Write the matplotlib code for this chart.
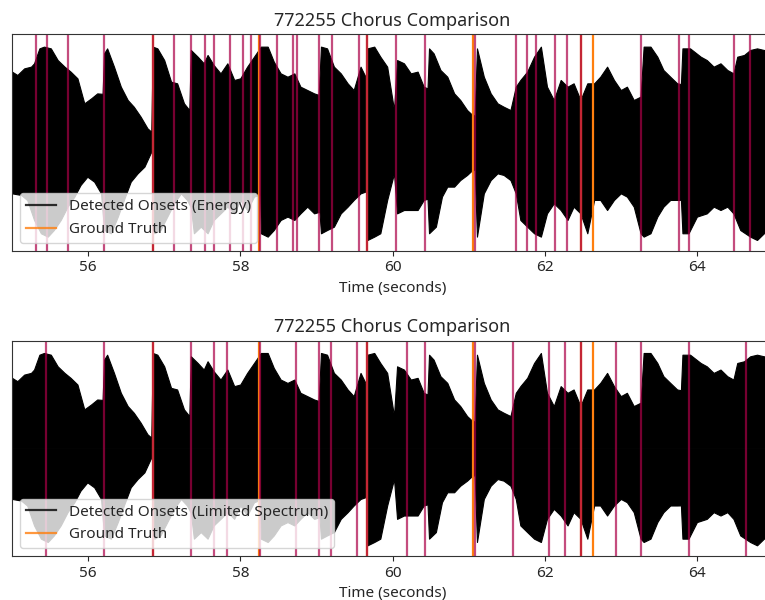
#!/usr/bin/env python

import matplotlib
matplotlib.use('Agg')
import matplotlib.pyplot as plt
from matplotlib.lines import Line2D

plt.rcParams['font.family'] = ['Noto Sans', 'DejaVu Sans']
plt.rcParams['text.color'] = '#262626'
plt.rcParams['axes.labelcolor'] = '#262626'
plt.rcParams['xtick.color'] = '#262626'
plt.rcParams['axes.edgecolor'] = '#333333'

song_id = '772255'

# waveform envelope (seconds, normalised amplitude)
upper_t = [55.0, 55.07, 55.16, 55.25, 55.29, 55.36, 55.42, 55.51, 55.60, 55.69,
           55.77, 55.86, 55.95, 56.04, 56.12, 56.19, 56.21, 56.25, 56.34, 56.43,
           56.52, 56.60, 56.69, 56.78, 56.83, 56.85, 56.91, 57.0, 57.09, 57.17,
           57.26, 57.33, 57.35, 57.44, 57.52, 57.57, 57.65, 57.74, 57.83, 57.92,
           58.0, 58.09, 58.18, 58.27, 58.36, 58.44, 58.53, 58.62, 58.71, 58.79,
           58.88, 58.97, 59.03, 59.06, 59.14, 59.23, 59.32, 59.41, 59.49, 59.58,
           59.65, 59.67, 59.76, 59.84, 59.93, 60.02, 60.06, 60.15, 60.24, 60.33,
           60.41, 60.46, 60.48, 60.54, 60.63, 60.72, 60.81, 60.89, 60.98, 61.05,
           61.08, 61.11, 61.20, 61.29, 61.38, 61.46, 61.55, 61.62, 61.68, 61.77,
           61.86, 61.95, 62.03, 62.12, 62.21, 62.30, 62.38, 62.47, 62.56, 62.65,
           62.73, 62.82, 62.91, 63.0, 63.08, 63.17, 63.26, 63.30, 63.39, 63.48,
           63.56, 63.65, 63.74, 63.79, 63.81, 63.91, 64.05, 64.13, 64.22, 64.31,
           64.40, 64.48, 64.53, 64.62, 64.70, 64.79, 64.88, 65.0]
upper_a = [0.655, 0.624, 0.685, 0.701, 0.732, 0.870, 0.886, 0.870, 0.762, 0.701,
           0.655, 0.593, 0.362, 0.408, 0.454, 0.450, 0.824, 0.870, 0.701, 0.516,
           0.393, 0.331, 0.239, 0.131, 0.100, 0.886, 0.870, 0.762, 0.562, 0.547,
           0.362, 0.300, 0.855, 0.793, 0.732, 0.809, 0.716, 0.639, 0.732, 0.578,
           0.593, 0.701, 0.793, 0.886, 0.886, 0.747, 0.639, 0.608, 0.639, 0.516,
           0.485, 0.454, 0.440, 0.886, 0.870, 0.701, 0.639, 0.547, 0.485, 0.701,
           0.600, 0.870, 0.886, 0.793, 0.701, 0.300, 0.762, 0.732, 0.639, 0.655,
           0.516, 0.500, 0.870, 0.824, 0.670, 0.608, 0.454, 0.393, 0.300, 0.254,
           0.250, 0.870, 0.608, 0.454, 0.362, 0.331, 0.300, 0.516, 0.578, 0.655,
           0.793, 0.886, 0.516, 0.393, 0.578, 0.516, 0.547, 0.393, 0.547, 0.547,
           0.608, 0.701, 0.578, 0.485, 0.516, 0.393, 0.424, 0.886, 0.886, 0.793,
           0.670, 0.608, 0.547, 0.540, 0.870, 0.870, 0.793, 0.762, 0.701, 0.732,
           0.670, 0.639, 0.793, 0.809, 0.855, 0.870, 0.855, 0.850]

lower_t = [55.0, 55.12, 55.20, 55.29, 55.38, 55.47, 55.55, 55.64, 55.73, 55.82,
           55.90, 55.99, 56.08, 56.17, 56.21, 56.30, 56.39, 56.47, 56.56, 56.65,
           56.74, 56.82, 56.85, 56.87, 56.95, 57.04, 57.13, 57.22, 57.30, 57.35,
           57.39, 57.48, 57.57, 57.65, 57.74, 57.83, 57.92, 58.0, 58.09, 58.18,
           58.26, 58.27, 58.36, 58.44, 58.53, 58.62, 58.71, 58.79, 58.88, 58.97,
           59.04, 59.06, 59.14, 59.23, 59.32, 59.41, 59.49, 59.58, 59.66, 59.67,
           59.76, 59.84, 59.93, 60.02, 60.06, 60.15, 60.24, 60.33, 60.41, 60.46,
           60.48, 60.57, 60.65, 60.72, 60.81, 60.89, 60.98, 61.05, 61.08, 61.11,
           61.20, 61.29, 61.38, 61.46, 61.55, 61.62, 61.68, 61.77, 61.86, 61.95,
           62.03, 62.12, 62.21, 62.30, 62.38, 62.47, 62.56, 62.65, 62.73, 62.82,
           62.91, 63.0, 63.08, 63.17, 63.26, 63.30, 63.39, 63.48, 63.56, 63.65,
           63.74, 63.79, 63.81, 63.89, 64.0, 64.13, 64.22, 64.31, 64.40, 64.48,
           64.57, 64.70, 64.79, 64.88, 65.0]
lower_a = [-0.470, -0.485, -0.532, -0.716, -0.839, -0.870, -0.809, -0.716, -0.593, -0.500,
           -0.393, -0.316, -0.362, -0.470, -0.809, -0.839, -0.685, -0.531, -0.362, -0.285,
           -0.223, -0.100, -0.060, -0.839, -0.809, -0.685, -0.562, -0.470, -0.531, -0.600,
           -0.839, -0.778, -0.839, -0.716, -0.655, -0.593, -0.655, -0.531, -0.624, -0.500,
           -0.480, -0.839, -0.870, -0.809, -0.716, -0.685, -0.716, -0.655, -0.593, -0.655,
           -0.640, -0.839, -0.809, -0.778, -0.655, -0.593, -0.531, -0.470, -0.450, -0.901,
           -0.870, -0.839, -0.531, -0.285, -0.655, -0.624, -0.624, -0.624, -0.531, -0.520,
           -0.839, -0.778, -0.500, -0.408, -0.408, -0.347, -0.300, -0.254, -0.250, -0.870,
           -0.470, -0.347, -0.285, -0.300, -0.347, -0.470, -0.716, -0.778, -0.839, -0.870,
           -0.655, -0.562, -0.624, -0.716, -0.593, -0.655, -0.839, -0.531, -0.531, -0.624,
           -0.531, -0.470, -0.500, -0.593, -0.839, -0.870, -0.839, -0.685, -0.593, -0.531,
           -0.531, -0.530, -0.839, -0.839, -0.685, -0.655, -0.593, -0.624, -0.593, -0.655,
           -0.809, -0.870, -0.901, -0.839, -0.800]

ground_truth = [56.85, 58.24, 59.67, 61.06, 62.48, 62.63]

energy_onsets = [55.32, 55.46, 55.73, 56.21, 56.85, 57.13, 57.35, 57.53, 57.66, 57.87,
                 58.04, 58.14, 58.26, 58.48, 58.69, 58.75, 59.04, 59.21, 59.56, 59.67,
                 60.04, 60.43, 61.08, 61.62, 61.77, 61.89, 62.13, 62.29, 62.48, 63.26,
                 63.76, 63.90, 64.49, 64.70]

spectrum_onsets = [55.45, 56.21, 56.85, 57.35, 57.66, 57.83, 58.26, 58.73, 59.04, 59.19,
                   59.54, 59.67, 60.19, 60.43, 61.08, 61.58, 62.06, 62.27, 62.48, 62.94,
                   63.26, 63.90, 64.65]

onset_color = (0.67, 0.0, 0.28)
truth_color = '#ff7f0e'


def draw_panel(ax, onsets, method):
    ax.fill_between(upper_t, 0, upper_a, color='black', linewidth=0.8, edgecolor='black')
    ax.fill_between(lower_t, lower_a, 0, color='black', linewidth=0.8, edgecolor='black')
    for t in ground_truth:
        ax.axvline(t, color=truth_color, linewidth=1.6)
    for t in onsets:
        ax.axvline(t, color=onset_color, linewidth=1.6, alpha=0.7)
    ax.set_xlim(55, 65)
    ax.set_ylim(-1, 1)
    ax.set_xticks([56, 58, 60, 62, 64])
    ax.tick_params(axis='x', labelsize=11)
    ax.set_yticks([])
    ax.set_xlabel('Time (seconds)', fontsize=11)
    ax.set_title(song_id + ' Chorus Comparison', fontsize=13)
    handles = [Line2D([], [], color='black', alpha=0.8, linewidth=1.6),
               Line2D([], [], color=truth_color, alpha=0.8, linewidth=1.6)]
    ax.legend(handles, ['Detected Onsets (' + method + ')', 'Ground Truth'],
              loc='lower left', fontsize=11)


fig = plt.figure(figsize=(7.65, 6.0), dpi=100)
ax1 = fig.add_axes([12 / 765, 1 - 250.7 / 600, 761 / 765, 216.4 / 600])
ax2 = fig.add_axes([12 / 765, 1 - 556 / 600, 761 / 765, 215.3 / 600])
draw_panel(ax1, energy_onsets, 'Energy')
draw_panel(ax2, spectrum_onsets, 'Limited Spectrum')

fig.savefig('out.png', dpi=100)
